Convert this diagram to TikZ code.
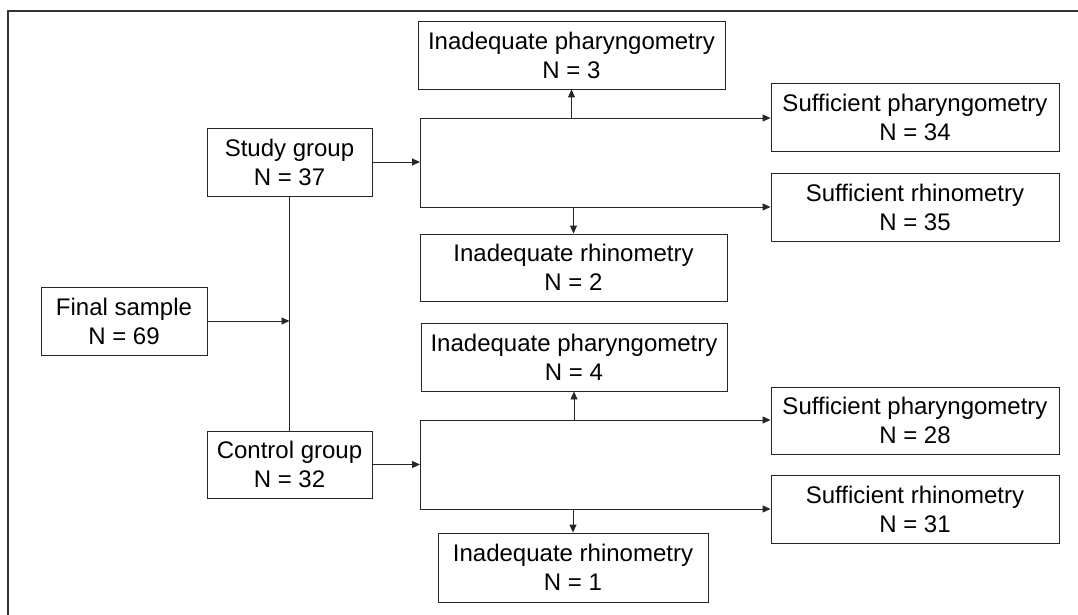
\documentclass[tikz,border=0pt]{standalone}
\usepackage{fontspec}
\setmainfont{Liberation Sans}
\usetikzlibrary{arrows.meta,calc}
\begin{document}
\begin{tikzpicture}[x=1pt,y=-1pt,
  box/.style={draw=black!85,line width=0.9pt,align=center,inner sep=2pt,
    font=\fontsize{24}{29}\selectfont},
  conn/.style={draw=black!85,line width=0.9pt},
  arr/.style={conn,-{Triangle[length=8pt,width=7pt]}},
  frameline/.style={draw=black!80,line width=2pt}]
\useasboundingbox (0,0) rectangle (1078,615);
\draw[frameline] (8,616) -- (8,11) -- (1079,11);

\node[box,minimum width=307pt,minimum height=68pt] (ip1) at (571.5,55) {Inadequate pharyngometry\\N = 3};
\node[box,minimum width=288pt,minimum height=68pt] (sp1) at (915,117) {Sufficient pharyngometry\\N = 34};
\node[box,minimum width=288pt,minimum height=68pt] (sr1) at (915,207) {Sufficient rhinometry\\N = 35};
\node[box,minimum width=307pt,minimum height=67pt] (ir1) at (573.5,267.5) {Inadequate rhinometry\\N = 2};
\node[box,minimum width=165pt,minimum height=68pt] (study) at (289.5,162) {Study group\\N = 37};
\node[box,minimum width=166pt,minimum height=68pt] (final) at (124,321) {Final sample\\N = 69};
\node[box,minimum width=165pt,minimum height=67pt] (control) at (289.5,464.5) {Control group\\N = 32};
\node[box,minimum width=306pt,minimum height=68pt] (ip2) at (574,357) {Inadequate pharyngometry\\N = 4};
\node[box,minimum width=288pt,minimum height=67pt] (sp2) at (915,420.5) {Sufficient pharyngometry\\N = 28};
\node[box,minimum width=288pt,minimum height=68pt] (sr2) at (915,509) {Sufficient rhinometry\\N = 31};
\node[box,minimum width=270pt,minimum height=69pt] (ir2) at (573,567.5) {Inadequate rhinometry\\N = 1};

\coordinate (b1t) at (420,118);
\coordinate (b1b) at (420,207);
\coordinate (b2t) at (420,420);
\coordinate (b2b) at (420,509);

% study group branch
\draw[arr] (study.east) -- (study.east -| b1t);
\draw[conn] (b1t) -- (b1b);
\draw[arr] (b1t) -- (sp1.west |- b1t);
\draw[arr] (b1b) -- (sr1.west |- b1b);
\draw[arr] (ip1.south |- b1t) -- (ip1.south);
\draw[arr] (ir1.north |- b1b) -- (ir1.north);

% final sample
\draw[conn] (study.south) -- (control.north);
\draw[arr] (final.east) -- (final.east -| study.south);

% control group branch
\draw[arr] (control.east) -- (control.east -| b2t);
\draw[conn] (b2t) -- (b2b);
\draw[arr] (b2t) -- (sp2.west |- b2t);
\draw[arr] (b2b) -- (sr2.west |- b2b);
\draw[arr] (ip2.south |- b2t) -- (ip2.south);
\draw[arr] (ir2.north |- b2b) -- (ir2.north);
\end{tikzpicture}
\end{document}
